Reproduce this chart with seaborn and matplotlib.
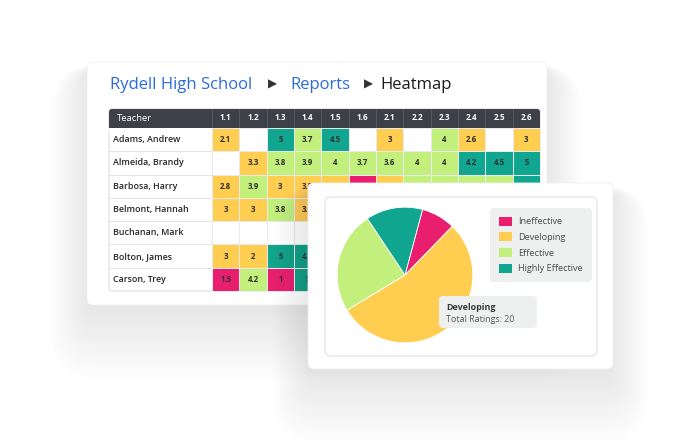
import numpy as np
import pandas as pd
import matplotlib.pyplot as plt
import seaborn as sns
from matplotlib.colors import ListedColormap
from matplotlib.patches import FancyBboxPatch, Patch

# -------- DATA --------
breadcrumb = ["Rydell High School", "Reports", "Heatmap"]
teachers = ["Adams, Andrew", "Almeida, Brandy", "Barbosa, Harry", "Belmont, Hannah",
            "Buchanan, Mark", "Bolton, James", "Carson, Trey"]
standards = ["1.1", "1.2", "1.3", "1.4", "1.5", "1.6",
             "2.1", "2.2", "2.3", "2.4", "2.5", "2.6"]
nan = np.nan
# average score per teacher / standard (cells hidden under the pie card left empty)
scores = [
    [2.1, nan, 5, 3.7, 4.5, nan, 3, nan, 4, 2.6, nan, 3],
    [nan, 3.3, 3.8, 3.9, 4, 3.7, 3.6, 4, 4, 4.2, 4.5, 5],
    [2.8, 3.9, 3, 3.5, nan, nan, nan, nan, nan, nan, nan, nan],
    [3, 3, 3.8, 3.1, nan, nan, nan, nan, nan, nan, nan, nan],
    [nan] * 12,
    [3, 2, 5, 4.5, nan, nan, nan, nan, nan, nan, nan, nan],
    [1.5, 4.2, 1, 5, nan, nan, nan, nan, nan, nan, nan, nan],
]
# rating band shown by each cell colour: 0 Ineffective .. 3 Highly Effective
bands = [
    [1, nan, 3, 2, 3, nan, 1, nan, 2, 1, nan, 1],
    [nan, 1, 2, 2, 2, 2, 2, 2, 2, 3, 3, 3],
    [1, 2, 1, 1, 1, 0, 1, 2, 2, 2, 2, 3],
    [1, 1, 2, 1, nan, nan, nan, nan, nan, nan, nan, nan],
    [nan] * 12,
    [1, 1, 3, 3, nan, nan, nan, nan, nan, nan, nan, nan],
    [0, 2, 0, 3, nan, nan, nan, nan, nan, nan, nan, nan],
]
categories = ["Ineffective", "Developing", "Effective", "Highly Effective"]
ratings = [3, 20, 9, 5]
colors = ["#e91e6e", "#ffcd50", "#c3f07c", "#11a68f"]

# -------- SETTINGS --------
sns.set_theme(style="white")
plt.rcParams["font.family"] = ["Open Sans", "DejaVu Sans"]
W, H = 700, 443
BLUE = "#2b6bd9"
DARK = "#3d4049"


def box(x0, y0, x1, y1):
    # pixel box (top-left origin) -> figure fraction rect
    return [x0 / W, 1 - y1 / H, (x1 - x0) / W, (y1 - y0) / H]


def card(ax, x0, y0, x1, y1, r=6, shadow=True):
    if shadow:
        for k in range(1, 26):
            ax.add_patch(FancyBboxPatch((x0 + 4, y0 + 8 + k * 1.4), x1 - x0 - 8, y1 - y0 - 8,
                                        boxstyle=f"round,pad={k * 1.6},rounding_size={r + k * 1.6}",
                                        fc="#6a6f7a", ec="none", alpha=0.0055))
    ax.add_patch(FancyBboxPatch((x0, y0), x1 - x0, y1 - y0,
                                boxstyle=f"round,pad=0,rounding_size={r}",
                                fc="white", ec="#efefef", lw=0.6))


fig = plt.figure(figsize=(7, 4.43), dpi=100)
fig.patch.set_facecolor("white")

# -------- BACK CARD: HEATMAP REPORT --------
bg = fig.add_axes([0, 0, 1, 1], zorder=0)
bg.set_xlim(0, W)
bg.set_ylim(H, 0)
bg.axis("off")
card(bg, 87, 62, 547, 305)

crumb_x = [110, 290, 380]
for i, (txt, x) in enumerate(zip(breadcrumb, crumb_x)):
    last = i == len(breadcrumb) - 1
    bg.text(x, 85, txt, fontsize=12, color="#1c1c1c" if last else BLUE,
            va="center", ha="left")
    if not last:
        bg.text(x + (158 if i == 0 else 74), 84.5, "\u25b6", fontsize=8.5, color="#333333",
                va="center", ha="left", family=["DejaVu Sans"])

# table frame, header band and teacher column
tx0, tx1, hx, ty0, ty1 = 109, 540, 212, 109, 291
bg.add_patch(FancyBboxPatch((tx0, ty0), tx1 - tx0, ty1 - ty0,
                            boxstyle="round,pad=0,rounding_size=3",
                            fc="white", ec="#dedede", lw=0.8))
bg.add_patch(FancyBboxPatch((tx0, ty0), tx1 - tx0, 19 + 4,
                            boxstyle="round,pad=0,rounding_size=3", fc=DARK, ec="none"))
bg.add_patch(plt.Rectangle((tx0, ty0 + 19), tx1 - tx0, 4, fc="white", ec="none"))
bg.text(tx0 + 8, ty0 + 9.5, "Teacher", color="white", fontsize=6.8, va="center")
row_h = (ty1 - 128) / len(teachers)
for k in range(1, len(teachers)):
    bg.plot([tx0, hx], [128 + k * row_h] * 2, color="#e3e3e3", lw=0.7)
col_w = (tx1 - hx) / len(standards)
for k in range(len(standards)):
    bg.plot([hx + k * col_w] * 2, [ty0, 128], color="#5b5f68", lw=0.6)

score_df = pd.DataFrame(scores, index=teachers, columns=standards)
band_df = pd.DataFrame(bands, index=teachers, columns=standards)
labels = score_df.map(lambda v: "" if pd.isna(v) else f"{v:g}")

hm = fig.add_axes(box(hx, 128, tx1, ty1), zorder=1)
hm.hlines(np.arange(1, len(teachers)), 0, len(standards), color="#e3e3e3", lw=0.7, zorder=0)
hm.vlines(np.arange(0, len(standards) + 1), 0, len(teachers), color="#e3e3e3", lw=0.7, zorder=0)
sns.heatmap(band_df, ax=hm, cmap=ListedColormap(colors), vmin=-0.5, vmax=3.5,
            annot=labels, fmt="", cbar=False, linewidths=0.4, linecolor="#e9e9e9",
            annot_kws={"fontsize": 5.6, "fontweight": "bold", "color": "#2e2e2e"})
hm.set_xlabel("")
hm.set_ylabel("")
hm.xaxis.tick_top()
hm.tick_params(axis="x", length=0, pad=4, labelsize=5.8, labelcolor="white")
hm.tick_params(axis="y", length=0, pad=71, labelsize=6.4, labelcolor="#262626")
for t in hm.get_xticklabels():
    t.set_fontweight("bold")
for t in hm.get_yticklabels():
    t.set_ha("left")
    t.set_rotation(0)
    t.set_fontweight("semibold")

# -------- FRONT CARD: PIE --------
front = fig.add_axes([0, 0, 1, 1], zorder=5)
front.set_xlim(0, W)
front.set_ylim(H, 0)
front.axis("off")
front.patch.set_alpha(0)
card(front, 308, 183, 613, 369)
front.add_patch(FancyBboxPatch((325, 197), 272, 159, boxstyle="round,pad=0,rounding_size=6",
                               fc="white", ec="#e2e2e2", lw=0.8))

pie_ax = fig.add_axes(box(336.5, 206.5, 473.5, 343.5), zorder=6)
pie_ax.pie(ratings, colors=colors, startangle=75, counterclock=False,
           wedgeprops={"edgecolor": "white", "linewidth": 0.6})
pie_ax.set_xlim(-1.01, 1.01)
pie_ax.set_ylim(-1.01, 1.01)
pie_ax.set_aspect("equal")

handles = [Patch(fc=c, ec="none", label=l) for c, l in zip(colors, categories)]
leg = pie_ax.legend(handles=handles, loc="upper left", bbox_to_anchor=(490 / W, 1 - 208 / H),
                    bbox_transform=fig.transFigure, borderaxespad=0, frameon=True,
                    fancybox=True, facecolor="#eef0f0", edgecolor="none", framealpha=1,
                    fontsize=6.6, handlelength=1.4, handleheight=1.1, handletextpad=0.75,
                    labelspacing=0.68, borderpad=0.95)
for t in leg.get_texts():
    t.set_color("#4a4a4a")
leg.get_frame().set_boxstyle("round,pad=0,rounding_size=0.45")

# hover tooltip for the Developing slice
tip = fig.add_axes([0, 0, 1, 1], zorder=7)
tip.set_xlim(0, W)
tip.set_ylim(H, 0)
tip.axis("off")
tip.patch.set_alpha(0)
tip.add_patch(FancyBboxPatch((439, 296), 98, 32, boxstyle="round,pad=0,rounding_size=4",
                             fc="#eef0f0", ec="none"))
tip.text(446, 307.5, categories[1], fontsize=6.4, fontweight="bold", color="#3a3a3a", va="center")
tip.text(446, 320, f"Total Ratings: {ratings[1]}", fontsize=6.4, color="#5a5a5a", va="center")

plt.savefig("out.png", dpi=100)
